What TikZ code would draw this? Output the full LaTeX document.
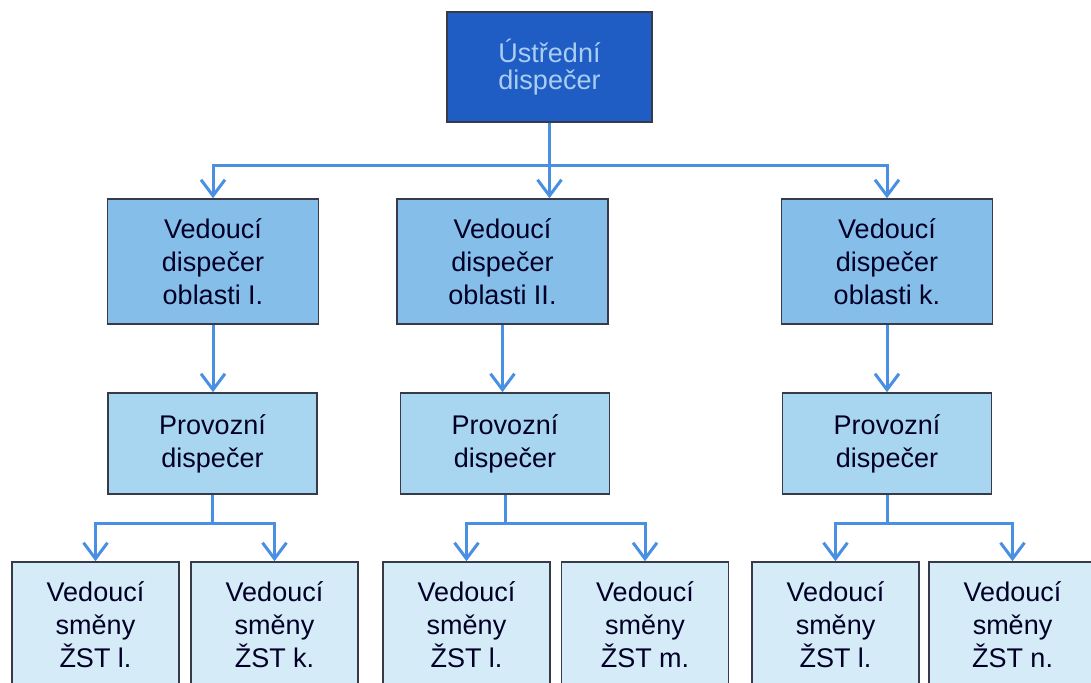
\documentclass[tikz,border=0pt]{standalone}
\usepackage{fontspec}
\setmainfont{Liberation Sans}
\usetikzlibrary{arrows.meta, positioning, calc}
\usepackage{xcolor}
\definecolor{centralcolor}{RGB}{31,92,196}
\definecolor{centraltext}{RGB}{170,206,242}
\definecolor{areacolor}{RGB}{134,190,234}
\definecolor{opcolor}{RGB}{168,213,240}
\definecolor{shiftcolor}{RGB}{213,235,248}
\definecolor{linkcolor}{RGB}{74,144,226}
\definecolor{edgecolor}{RGB}{55,58,72}
\tikzset{
    box/.style={
        rectangle, draw=edgecolor, line width=0.8pt, align=center,
        inner sep=0pt, text=black!85!blue,
        font=\fontsize{13.5}{16.5}\selectfont
    },
    centralbox/.style={
        box, fill=centralcolor, text=centraltext, minimum width=102.5pt, minimum height=55pt,
        font=\fontsize{13.5}{13.5}\selectfont
    },
    areabox/.style={
        box, fill=areacolor, minimum width=105.5pt, minimum height=62.5pt
    },
    opbox/.style={
        box, fill=opcolor, minimum width=104.5pt, minimum height=50.5pt
    },
    shiftbox/.style={
        box, fill=shiftcolor, minimum width=83.5pt, minimum height=63pt
    },
    link/.style={line width=1.5pt, linkcolor},
    arrow/.style={link, -{Straight Barb[length=8pt, width=12pt]}}
}
\begin{document}
\begin{tikzpicture}[x=0.5pt, y=-0.5pt]
\useasboundingbox (0,0) rectangle (1091,682);

% Central dispatcher
\node[centralbox] (ustr) at (549.5,67) {Ústřední\\dispečer};

% Area dispatchers
\node[areabox] (vedI) at (213,261.5) {Vedoucí\\dispečer\\oblasti I.};
\node[areabox] (vedII) at (502.5,261.5) {Vedoucí\\dispečer\\oblasti II.};
\node[areabox] (vedK) at (887,261.5) {Vedoucí\\dispečer\\oblasti k.};

% Operating dispatchers
\node[opbox] (provI) at (212.5,443.5) {Provozní\\dispečer};
\node[opbox] (provII) at (505,443.5) {Provozní\\dispečer};
\node[opbox] (provK) at (887,443.5) {Provozní\\dispečer};

% Shift leaders
\node[shiftbox] (smIl) at (95.5,625) {Vedoucí\\směny\\ŽST l.};
\node[shiftbox] (smIk) at (274.5,625) {Vedoucí\\směny\\ŽST k.};
\node[shiftbox] (smIIl) at (466.5,625) {Vedoucí\\směny\\ŽST l.};
\node[shiftbox] (smIIm) at (645,625) {Vedoucí\\směny\\ŽST m.};
\node[shiftbox] (smKl) at (835.5,625) {Vedoucí\\směny\\ŽST l.};
\node[shiftbox] (smKn) at (1012.5,625) {Vedoucí\\směny\\ŽST n.};

% Bus points
\coordinate (bus) at ($(ustr.south)+(0,43)$);
\coordinate (busI) at ($(provI.south)+(0,29)$);
\coordinate (busII) at ($(provII.south)+(0,29)$);
\coordinate (busK) at ($(provK.south)+(0,29)$);

% Central to areas
\draw[arrow] (ustr.south) -- (ustr.south |- vedII.north);
\draw[arrow] (bus) -| (vedI.north);
\draw[arrow] (bus) -| (vedK.north);

% Areas to operating
\draw[arrow] (vedI.south) -- (vedI.south |- provI.north);
\draw[arrow] (vedII.south) -- (vedII.south |- provII.north);
\draw[arrow] (vedK.south) -- (vedK.south |- provK.north);

% Operating to shifts
\draw[link] (provI.south) -- (busI);
\draw[arrow] (busI) -| (smIl.north);
\draw[arrow] (busI) -| (smIk.north);
\draw[link] (provII.south) -- (busII);
\draw[arrow] (busII) -| (smIIl.north);
\draw[arrow] (busII) -| (smIIm.north);
\draw[link] (provK.south) -- (busK);
\draw[arrow] (busK) -| (smKl.north);
\draw[arrow] (busK) -| (smKn.north);

\end{tikzpicture}
\end{document}
